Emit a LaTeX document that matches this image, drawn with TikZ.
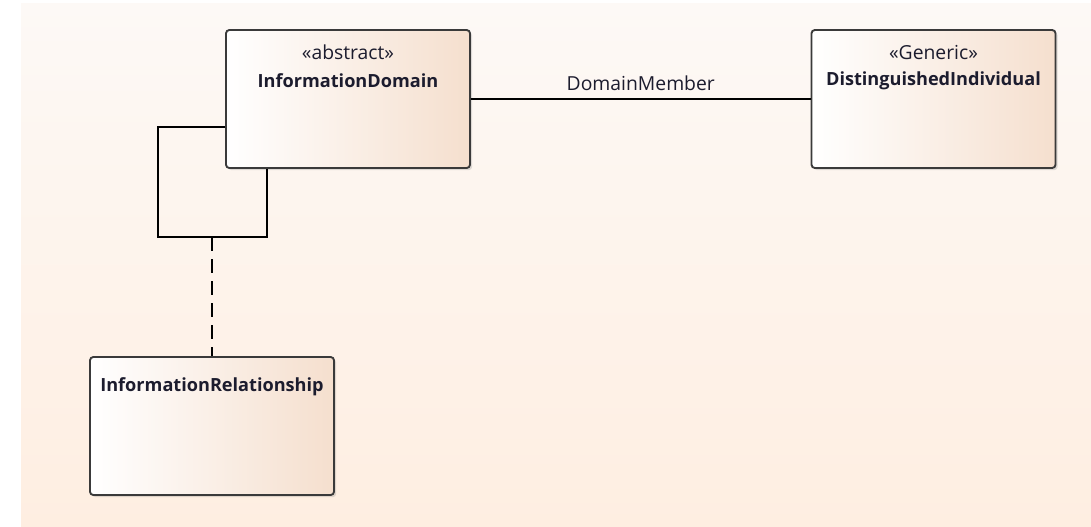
\documentclass[tikz,border=0pt]{standalone}
\usepackage{fontspec}
\setmainfont{Open Sans}
\usetikzlibrary{positioning,shadows}
\definecolor{peach}{HTML}{F5DFCE}
\definecolor{bgtop}{HTML}{FDF9F6}
\definecolor{bgbot}{HTML}{FEEEE1}
\definecolor{frame}{HTML}{3A3A3A}
\definecolor{ink}{HTML}{1C1C2E}
\tikzstyle{classbox}=[
	draw=frame,
	line width=1.4pt,
	rounded corners=2.5pt,
	shape=rectangle,
	left color=white,
	right color=peach,
	minimum width=183pt,
	minimum height=103.5pt,
	inner sep=0pt,
	drop shadow={shadow xshift=1.6pt,shadow yshift=-1.6pt,opacity=0.25}
]
\tikzstyle{stereo} = [font=\fontsize{14.5}{17}\selectfont,text=ink,inner sep=0pt,anchor=center]
\tikzstyle{cname} = [font=\fontsize{13.6}{16}\selectfont\bfseries,text=ink,inner sep=0pt,anchor=center]
\tikzstyle{assoc} = [draw=black,line width=1.1pt,-]

\begin{document}
\begin{tikzpicture}[x=0.75pt,y=-0.75pt]
	\useasboundingbox (0,0) rectangle (1091,526);
	\fill[top color=bgtop,bottom color=bgbot] (21,3) rectangle (1091,526);

	% classes
	\node[classbox] (dom) at (348,99) {};
	\node[classbox] (dist) at (933.5,99) {};
	\node[classbox] (rel) at (212,426) {};

	\node[stereo] (domst) [below=17.25pt of dom.north,anchor=center] {«abstract»};
	\node[cname] (domname) [below=21.75pt of domst.center,anchor=center] {InformationDomain};
	\node[stereo] (distst) [below=17.25pt of dist.north,anchor=center] {«Generic»};
	\node[cname] (distname) [below=21.75pt of distst.center,anchor=center] {DistinguishedIndividual};
	\node[cname] (relname) [below=23.25pt of rel.north,anchor=center] {InformationRelationship};

	% connectors
	\coordinate (lpa) at (158,127);
	\coordinate (lpb) at (158,237);
	\coordinate (lpc) at (267,237);
	\coordinate (lpm) at (rel.north |- lpb);

	\path[assoc]
	(dom.east) edge node[above=12pt,anchor=center,inner sep=0pt,text=ink,font=\fontsize{14.5}{17}\selectfont] (dmlabel) {DomainMember} (dist.west);
	\draw[assoc] (dom.west |- lpa) -- (lpa) -- (lpb) -- (lpc) -- (lpc |- dom.south);
	\draw[assoc,dash pattern=on 10.5pt off 6pt] (lpm) -- (rel.north);

\end{tikzpicture}
\end{document}
